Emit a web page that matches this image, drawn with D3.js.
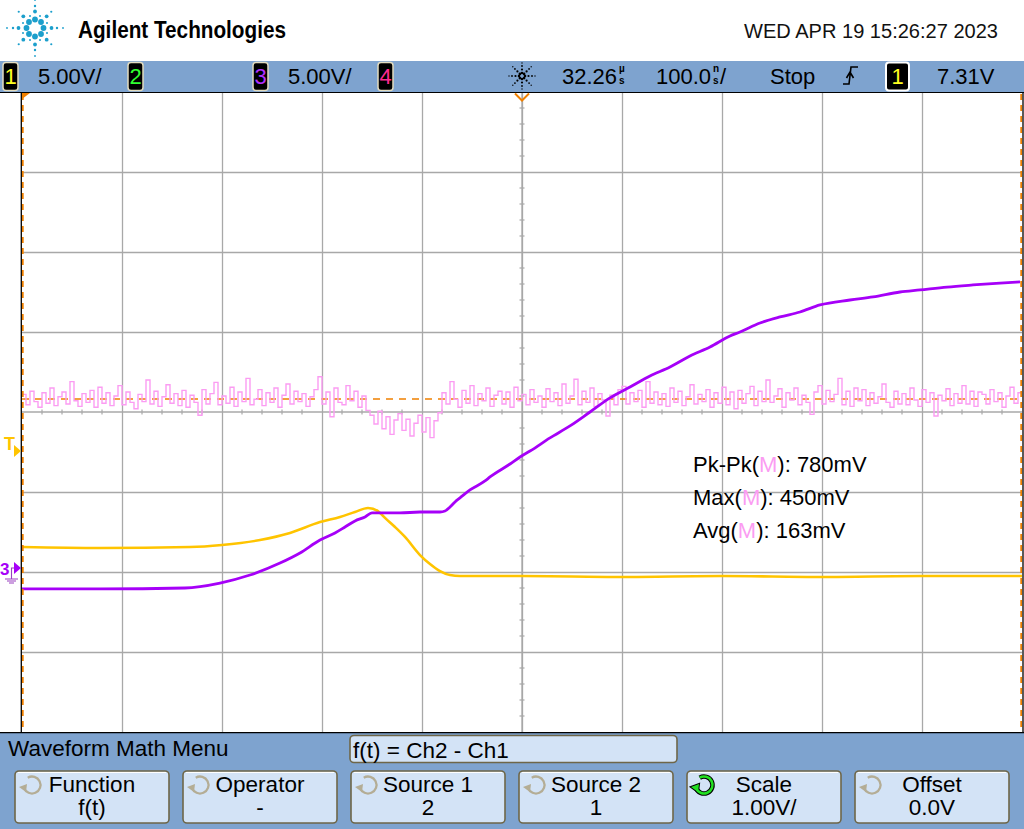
<!DOCTYPE html>
<html><head><meta charset="utf-8">
<script src="https://cdn.jsdelivr.net/npm/d3@7"></script>
<style>
body{margin:0;background:#fff;overflow:hidden}
svg{display:block}
text{font-family:"Liberation Sans",Arial,sans-serif}
</style>
</head><body>
<svg id="c" width="1024" height="829"></svg>
<script>
// ---------------- DATA ----------------
// Channel 1 (yellow), 5 V/div, time in ns relative to screen centre
const ch1Time  = [-500,-422,-332,-300,-262,-232,-202,-182,-167,-154,-144,-137,-127,-117,-102,-92,-82,-72,-62,0,100,200,300,400,500];
const ch1Volts = [1.56,1.50,1.56,1.69,2.00,2.44,3.12,3.44,3.75,4.00,3.81,3.38,2.81,2.19,1.06,0.50,0.06,-0.19,-0.25,-0.25,-0.31,-0.25,-0.31,-0.25,-0.25];
// Channel 3 (purple), 5 V/div
const ch3Time  = [-500,-422,-337,-302,-272,-242,-222,-202,-187,-177,-167,-157,-150,-142,-122,-102,-82,-77,-72,-67,-62,-52,-37,-32,-12,-2,8,28,48,68,88,108,128,148,168,188,208,218,238,258,278,298,328,351,378,398,425,451,478,498];
const ch3Volts = [-1.06,-1.06,-1.00,-0.69,-0.19,0.56,1.19,2.00,2.44,2.81,3.19,3.44,3.69,3.69,3.69,3.75,3.75,3.81,4.06,4.38,4.63,5.13,5.69,5.94,6.75,7.19,7.56,8.38,9.13,10.0,10.88,11.56,12.25,12.81,13.5,14.06,14.75,15.0,15.56,15.94,16.25,16.69,17.0,17.19,17.5,17.63,17.81,17.94,18.06,18.13];
// Math f(t) = Ch2 - Ch1 (pink), 1 V/div, samples every 4 ns starting at -500 ns, mV
const mathStartNs = -500, mathStepNs = 4;
const mathMv = [
220,90,260,130,60,240,110,300,80,190,
250,100,380,140,70,230,120,270,60,310,
110,240,80,200,330,90,250,120,40,220,
130,400,100,260,70,190,340,110,230,80,
270,60,210,120,-40,280,100,230,370,90,
200,110,310,70,250,130,420,90,160,280,
80,240,120,300,60,210,350,100,260,130,
230,70,190,280,440,100,250,-60,300,120,
90,330,140,260,60,200,20,-40,-150,10,
-210,-60,-280,-100,-20,-230,-90,-300,-140,-40,
-250,-70,-320,-110,-10,240,100,380,160,60,
270,110,330,80,230,140,300,70,210,260,
100,250,60,310,140,220,90,280,120,200,
60,290,130,240,80,350,110,200,410,90,
260,120,300,70,230,150,-50,210,90,280,
320,100,240,130,270,60,380,110,250,90,
230,70,300,120,260,80,190,340,100,220,
130,280,60,240,110,310,90,250,40,270,
110,230,320,80,260,130,400,120,200,290,
60,240,150,300,90,210,120,-30,250,330,
100,270,130,220,420,90,260,70,300,140,
280,80,240,110,190,350,120,60,260,100,
230,90,300,150,70,280,120,240,-50,210,
140,290,80,230,110,330,100,260,70,250,
220,100,280,130,240,60,200,310,110,240];
const mathAvgV = 0.163;
const trigLevelV = 7.31;
// Grid / tick values
const timeGrid = [-400,-300,-200,-100,0,100,200,300,400];
const divGrid = [-3,-2,-1,1,2,3];
const minorTime = d3.range(-480, 500, 20);
const minorDiv = d3.range(-3.8, 4, 0.2);
// Texts
const headerBrand = "Agilent Technologies";
const headerDate = "WED APR 19 15:26:27 2023";
const chanLabels = ["1","2","3","4"];
const chanScales = ["5.00V/","","5.00V/",""];
const measNames = ["Pk-Pk","Max","Avg"];
const measValues = ["780mV","450mV","163mV"];
const menuTitle = "Waveform Math Menu";
const mathExpr = "f(t) = Ch2 - Ch1";
const btnLabels = ["Function","Operator","Source 1","Source 2","Scale","Offset"];
const btnValues = ["f(t)","-","2","1","1.00V/","0.0V"];
const activeBtn = 4;

// ---------------- DRAW ----------------
const svg = d3.select("#c");
const P = {x0:22, x1:1022, y0:92, y1:732};
const barCol = "#7ea3cf";
const yellow = "#ffc400", purple = "#a600f8", pink = "#fb9cf2", orange = "#f08000";

const x = d3.scaleLinear().domain([-500,500]).range([P.x0,P.x1]);
const yCh = d3.scaleLinear().domain([-10,30]).range([P.y1,P.y0]);
const yMath = d3.scaleLinear().domain([-4,4]).range([P.y1,P.y0]);

svg.append("rect").attr("width",1024).attr("height",829).attr("fill","#fff");

// ---- header ----
const logo = svg.append("g").attr("transform","translate(35,28)").attr("fill","#1c9fcc");
for (let k=0;k<8;k++){
  const a = k*Math.PI/4;
  const card = k%2===0;
  const rs = card ? [[8.5,2.9],[16.5,1.9],[22,1.2],[28,0.9]] : [[8.5,2.9],[16.5,1.9],[23,1.1]];
  rs.forEach(([r,s])=>logo.append("circle").attr("cx",r*Math.sin(a)).attr("cy",-r*Math.cos(a)).attr("r",s));
}
for (let k=0;k<8;k++){
  const a = k*Math.PI/4+Math.PI/8;
  logo.append("circle").attr("cx",13*Math.sin(a)).attr("cy",-13*Math.cos(a)).attr("r",1.0);
}
svg.append("text").attr("x",78).attr("y",38).attr("font-size",23).attr("font-weight","bold")
  .attr("textLength",208).attr("lengthAdjust","spacingAndGlyphs").attr("fill","#000").text(headerBrand);
svg.append("text").attr("x",744).attr("y",38).attr("font-size",20.5)
  .attr("textLength",254).attr("lengthAdjust","spacingAndGlyphs").attr("fill","#111").text(headerDate);

// ---- status bar ----
svg.append("rect").attr("x",0).attr("y",61).attr("width",1024).attr("height",31.5).attr("fill",barCol);
const boxX = [3,128,253,378], boxCol = ["#ffff20","#30ff30","#b030ff","#ff2a90"];
chanLabels.forEach((l,i)=>{
  svg.append("rect").attr("x",boxX[i]).attr("y",62.5).attr("width",15).attr("height",28).attr("rx",3)
    .attr("fill","#000").attr("stroke","#e2dcc0").attr("stroke-width",1.5);
  svg.append("text").attr("x",boxX[i]+7.5).attr("y",84).attr("text-anchor","middle").attr("font-size",22)
    .attr("fill",boxCol[i]).text(l);
  if (chanScales[i]) svg.append("text").attr("x",boxX[i]+35).attr("y",84).attr("font-size",22).attr("fill","#000").text(chanScales[i]);
});
// acquisition star
const acq = svg.append("g").attr("transform","translate(522,76)").attr("fill","#000");
for (let k=0;k<8;k++){
  const a=k*Math.PI/4;
  [[3,1.3],[6.5,1.1],[10,0.9],[13,0.7]].forEach(([r,s])=>acq.append("circle").attr("cx",r*Math.sin(a)).attr("cy",-r*Math.cos(a)).attr("r",s));
}
function unitText(xs, main, u1, u2, tail){
  const t = svg.append("text").attr("x",xs).attr("y",84).attr("font-size",22).attr("fill","#000").text(main);
  const w = t.node().getComputedTextLength();
  svg.append("text").attr("x",xs+w+2).attr("y",72).attr("font-size",10).attr("font-weight","bold").attr("fill","#000").text(u1);
  svg.append("text").attr("x",xs+w+2).attr("y",84).attr("font-size",10).attr("font-weight","bold").attr("fill","#000").text(u2);
  if (tail) svg.append("text").attr("x",xs+w+9).attr("y",84).attr("font-size",22).attr("fill","#000").text(tail);
}
unitText(562,"32.26","µ","s","");
unitText(656,"100.0","n","s","/");
svg.append("text").attr("x",770).attr("y",84).attr("font-size",22).attr("fill","#000").text("Stop");
svg.append("path").attr("d","M843,84 H849 L851,67 H858 M846.5,78 L850,72 L853.5,78").attr("fill","none").attr("stroke","#000").attr("stroke-width",1.6);
svg.append("rect").attr("x",886).attr("y",62.5).attr("width",23).attr("height",28).attr("rx",3)
  .attr("fill","#000").attr("stroke","#fff").attr("stroke-width",2);
svg.append("text").attr("x",897.5).attr("y",84).attr("text-anchor","middle").attr("font-size",22).attr("fill","#ffff20").text("1");
svg.append("text").attr("x",937).attr("y",84).attr("font-size",22).attr("fill","#000").text(trigLevelV.toFixed(2)+"V");

// ---- plot grid ----
const grid = svg.append("g");
grid.append("g").attr("transform",`translate(0,${P.y1})`)
  .call(d3.axisBottom(x).tickValues(timeGrid).tickSize(-(P.y1-P.y0)).tickFormat(""))
  .call(g=>{g.select(".domain").remove(); g.selectAll("line").attr("stroke","#a8a8a8").attr("stroke-width",1.3);});
grid.append("g").attr("transform",`translate(${P.x0},0)`)
  .call(d3.axisLeft(yMath).tickValues(divGrid).tickSize(-(P.x1-P.x0)).tickFormat(""))
  .call(g=>{g.select(".domain").remove(); g.selectAll("line").attr("stroke","#a8a8a8").attr("stroke-width",1.3);});
grid.append("line").attr("x1",P.x0).attr("x2",P.x1).attr("y1",yMath(0)).attr("y2",yMath(0)).attr("stroke","#a8a8a8").attr("stroke-width",1.3);
grid.append("line").attr("x1",x(0)).attr("x2",x(0)).attr("y1",P.y0).attr("y2",P.y1).attr("stroke","#a8a8a8").attr("stroke-width",1.3);
grid.selectAll(".mt").data(minorTime.filter(t=>t%100!==0)).join("line")
  .attr("x1",d=>x(d)).attr("x2",d=>x(d)).attr("y1",yMath(0)-2.5).attr("y2",yMath(0)+2.5)
  .attr("stroke","#a8a8a8").attr("stroke-width",1.2);
grid.selectAll(".md").data(minorDiv.filter(d=>Math.abs(d-Math.round(d))>0.05)).join("line")
  .attr("y1",d=>yMath(d)).attr("y2",d=>yMath(d)).attr("x1",x(0)-2.5).attr("x2",x(0)+2.5)
  .attr("stroke","#a8a8a8").attr("stroke-width",1.2);

svg.append("clipPath").attr("id","pc").append("rect").attr("x",P.x0).attr("y",P.y0).attr("width",P.x1-P.x0).attr("height",P.y1-P.y0);
const tr = svg.append("g").attr("clip-path","url(#pc)");

// average marker line
tr.append("line").attr("x1",P.x0).attr("x2",P.x1).attr("y1",yMath(mathAvgV)).attr("y2",yMath(mathAvgV))
  .attr("stroke",orange).attr("stroke-width",1.5).attr("stroke-dasharray","7,6");

// math trace
const mathPts = mathMv.map((v,i)=>[mathStartNs+i*mathStepNs, v/1000]);
mathPts.push([500, mathMv[mathMv.length-1]/1000]);
tr.append("path").datum(mathPts)
  .attr("d",d3.line().x(d=>x(d[0])).y(d=>yMath(d[1])).curve(d3.curveStepAfter))
  .attr("fill","none").attr("stroke",pink).attr("stroke-width",1.4);

// ch1, ch3
const chLine = d3.line().x(d=>x(d[0])).y(d=>yCh(d[1])).curve(d3.curveMonotoneX);
tr.append("path").datum(ch1Time.map((t,i)=>[t,ch1Volts[i]])).attr("d",chLine)
  .attr("fill","none").attr("stroke",yellow).attr("stroke-width",2.6);
tr.append("path").datum(ch3Time.map((t,i)=>[t,ch3Volts[i]])).attr("d",chLine)
  .attr("fill","none").attr("stroke",purple).attr("stroke-width",2.8);

// edge cursors (orange dashed)
[P.x0+0.8, P.x1-0.8].forEach(xx=>svg.append("line").attr("x1",xx).attr("x2",xx).attr("y1",P.y0+2).attr("y2",P.y1)
  .attr("stroke",orange).attr("stroke-width",1.8).attr("stroke-dasharray","6,5"));

// frame
svg.append("line").attr("x1",0).attr("x2",1024).attr("y1",92.5).attr("y2",92.5).attr("stroke","#000").attr("stroke-width",1.2);
svg.append("line").attr("x1",21.3).attr("x2",21.3).attr("y1",92).attr("y2",733).attr("stroke","#000").attr("stroke-width",1.3);
svg.append("line").attr("x1",1023).attr("x2",1023).attr("y1",92).attr("y2",733).attr("stroke","#000").attr("stroke-width",1.3);

// top markers
svg.append("path").attr("d","M22,93 H30 L22,99 Z").attr("fill",orange);
svg.append("path").attr("d",`M${x(0)-7},93.5 L${x(0)},100.5 L${x(0)+7},93.5`).attr("fill","none").attr("stroke",orange).attr("stroke-width",2);

// left markers
const ty = yCh(trigLevelV)-4;
svg.append("text").attr("x",4).attr("y",ty-1).attr("font-size",18).attr("font-weight","bold").attr("fill",yellow).text("T");
svg.append("path").attr("d",`M14,${ty-6} L21,${ty} L14,${ty+6} Z`).attr("fill",yellow);
const gy = yCh(0)-4;
svg.append("text").attr("x",0).attr("y",gy+7).attr("font-size",17).attr("font-weight","bold").attr("fill",purple).text("3");
svg.append("path").attr("d",`M14,${gy-6} L21,${gy} L14,${gy+6} Z`).attr("fill",purple);
svg.append("path").attr("d",`M14,${gy} H11.5 V${gy+11} M5,${gy+11} H18 M7,${gy+13} H16 M9,${gy+15} H14`)
  .attr("fill","none").attr("stroke","#9a40c0").attr("stroke-width",1.1);

// measurements
measNames.forEach((n,i)=>{
  const t = svg.append("text").attr("x",693).attr("y",472+i*33).attr("font-size",22).attr("fill","#000");
  t.append("tspan").text(n+"(");
  t.append("tspan").attr("fill",pink).text("M");
  t.append("tspan").text("): "+measValues[i]);
});

// ---- bottom menu ----
svg.append("rect").attr("x",0).attr("y",733).attr("width",1024).attr("height",96).attr("fill",barCol);
svg.append("line").attr("x1",0).attr("x2",1024).attr("y1",732.7).attr("y2",732.7).attr("stroke","#000").attr("stroke-width",1.2);
svg.append("text").attr("x",8).attr("y",756).attr("font-size",22.5).attr("fill","#000").text(menuTitle);
svg.append("rect").attr("x",350).attr("y",735.5).attr("width",327).attr("height",27).attr("rx",4)
  .attr("fill","#d3e3f6").attr("stroke","#6e6648").attr("stroke-width",1.6);
svg.append("text").attr("x",353).attr("y",758).attr("font-size",22.5).attr("fill","#000").text(mathExpr);

btnLabels.forEach((l,i)=>{
  const bx = 15 + i*168, bw = 154, by = 771, bh = 52;
  svg.append("rect").attr("x",bx).attr("y",by).attr("width",bw).attr("height",bh).attr("rx",4)
    .attr("fill","#d3e3f6").attr("stroke","#6e6648").attr("stroke-width",1.6);
  svg.append("path").attr("d",`M${bx+3},${by+1.5} H${bx+bw-3}`).attr("stroke","#fff").attr("stroke-width",1.2);
  const cx = bx+17, cy = 785, r = 8.5;
  const a0 = 200*Math.PI/180;
  const p0 = [cx + r*Math.cos(a0), cy - r*Math.sin(a0)];
  const arcD = `M${p0[0]},${p0[1]} A${r},${r} 0 1 0 ${cx + r*Math.cos(120*Math.PI/180)},${cy - r*Math.sin(120*Math.PI/180)}`;
  const head = `M${p0[0]-5},${p0[1]-1} L${p0[0]+3},${p0[1]-4} L${p0[0]+2},${p0[1]+4} Z`;
  if (i===activeBtn){
    svg.append("path").attr("d",arcD).attr("fill","none").attr("stroke","#000").attr("stroke-width",4.6);
    svg.append("path").attr("d",head).attr("fill","#000").attr("stroke","#000").attr("stroke-width",2);
    svg.append("path").attr("d",arcD).attr("fill","none").attr("stroke","#22e022").attr("stroke-width",2.6);
    svg.append("path").attr("d",head).attr("fill","#22e022");
  } else {
    svg.append("path").attr("d",arcD).attr("fill","none").attr("stroke","#b4ad95").attr("stroke-width",2.3);
    svg.append("path").attr("d",head).attr("fill","#b4ad95");
  }
  svg.append("text").attr("x",bx+bw/2).attr("y",792).attr("text-anchor","middle").attr("font-size",22.5).attr("fill","#000").text(l);
  svg.append("text").attr("x",bx+bw/2).attr("y",815).attr("text-anchor","middle").attr("font-size",22.5).attr("fill","#000").text(btnValues[i]);
});
</script>
</body></html>
